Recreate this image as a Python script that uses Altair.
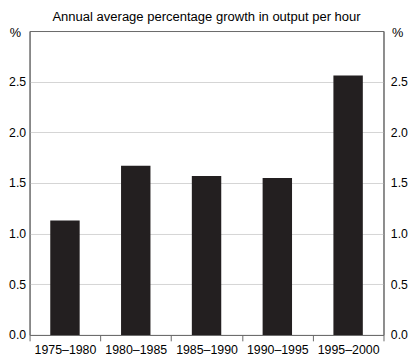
import altair as alt
import pandas as pd

title_text = "Annual average percentage growth in output per hour"
periods = ["1975–1980", "1980–1985", "1985–1990", "1990–1995", "1995–2000"]
growth = [1.13, 1.67, 1.57, 1.55, 2.56]
y_ticks = [0.0, 0.5, 1.0, 1.5, 2.0, 2.5]

df = pd.DataFrame({"period": periods, "growth": growth})

FONT = "Liberation Sans"
GREY = "#666666"
W, H = 361, 310

x_enc = alt.X(
    "period:N",
    sort=periods,
    scale=alt.Scale(paddingInner=0, paddingOuter=0),
    axis=alt.Axis(
        title=None,
        labelAngle=0,
        tickBand="extent",
        tickSize=6,
        tickColor=GREY,
        domainColor=GREY,
        labelFont=FONT,
        labelFontSize=12.6,
        labelColor="#000000",
        labelPadding=3,
    ),
)

y_scale = alt.Scale(domain=[0, 3.0], nice=False)

left = alt.Chart(df).mark_bar(width=30, color="#231f20").encode(
    x=x_enc,
    y=alt.Y(
        "growth:Q",
        scale=y_scale,
        axis=alt.Axis(
            orient="left",
            values=y_ticks,
            format=".1f",
            ticks=False,
            grid=True,
            gridColor="#d4d4d4",
            gridWidth=1,
            domainColor=GREY,
            labelFont=FONT,
            labelFontSize=12.5,
            labelColor="#000000",
            labelPadding=4,
            title="%",
            titleAngle=0,
            titleAlign="center",
            titleBaseline="alphabetic",
            titleX=-15,
            titleY=6,
            titleFont=FONT,
            titleFontSize=13,
            titleFontWeight="normal",
            titleColor="#000000",
        ),
    ),
)

right = alt.Chart(df).mark_bar(width=30, opacity=0).encode(
    x=alt.X("period:N", sort=periods),
    y=alt.Y(
        "growth:Q",
        scale=y_scale,
        axis=alt.Axis(
            orient="right",
            values=y_ticks,
            format=".1f",
            ticks=False,
            grid=False,
            domainColor=GREY,
            labelFont=FONT,
            labelFontSize=12.5,
            labelColor="#000000",
            labelPadding=7,
            title="%",
            titleAngle=0,
            titleAlign="center",
            titleBaseline="alphabetic",
            titleX=14,
            titleY=6,
            titleFont=FONT,
            titleFontSize=13,
            titleFontWeight="normal",
            titleColor="#000000",
        ),
    ),
)

title = alt.Chart(pd.DataFrame({"t": [title_text]})).mark_text(
    font=FONT, fontSize=13.3, color="#000000", align="center", baseline="alphabetic"
).encode(
    text="t:N",
    x=alt.value(W / 2),
    y=alt.value(-10),
)

chart = (
    alt.layer(left, right, title)
    .resolve_axis(y="independent")
    .properties(
        width=W,
        height=H,
        autosize=alt.AutoSizeParams(type="none"),
        padding={"left": 22, "top": 20, "right": 26, "bottom": 20},
    )
    .configure_view(stroke=GREY, strokeWidth=1)
)

chart.save("out.html", embed_options={"renderer": "svg", "actions": False})
